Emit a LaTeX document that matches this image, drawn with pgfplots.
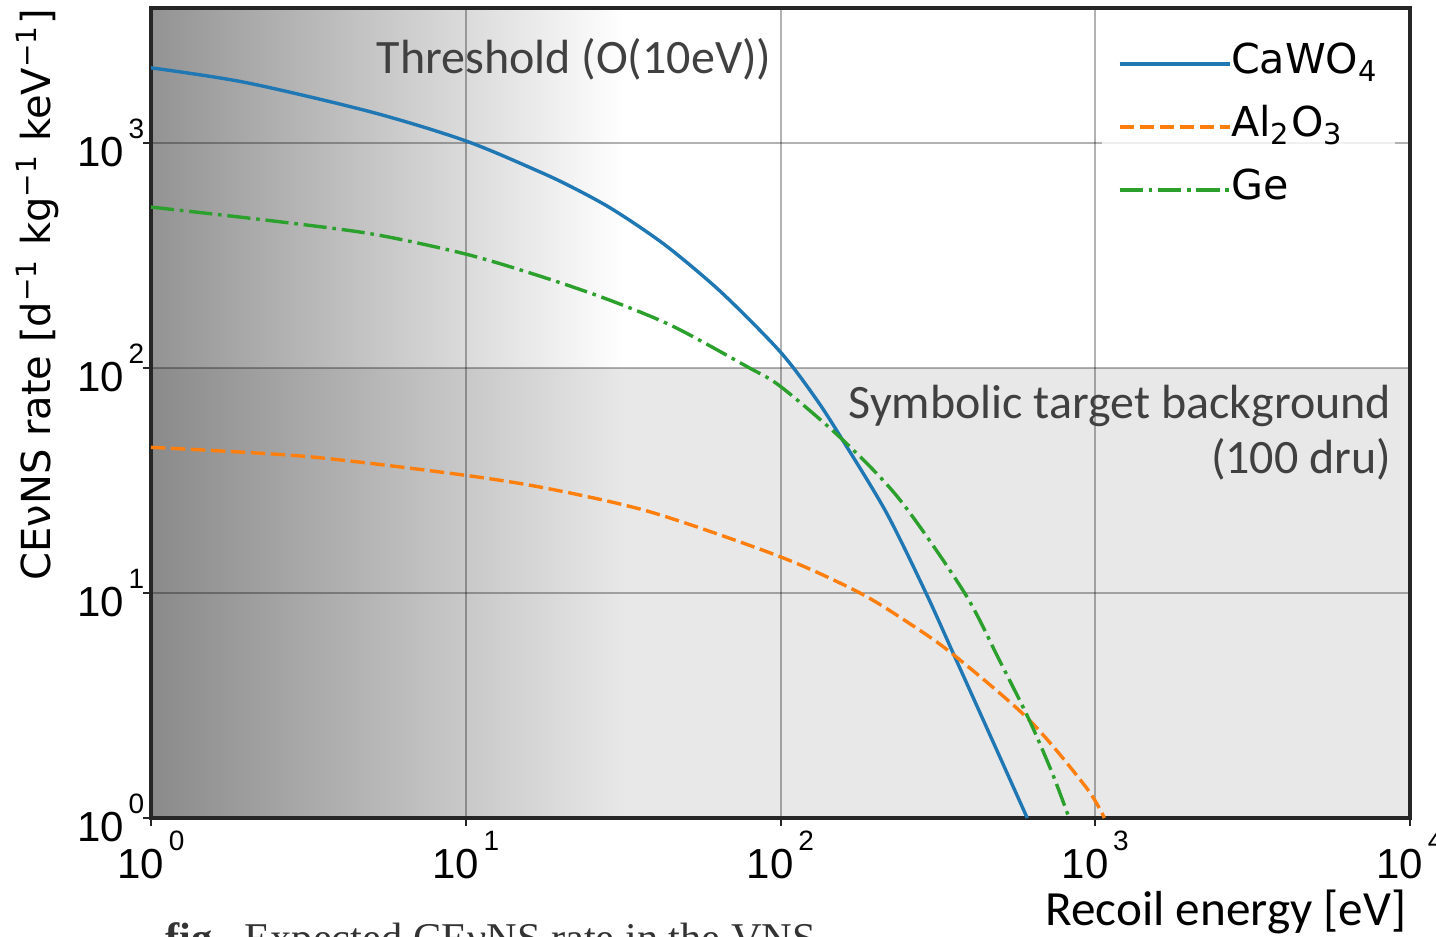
\documentclass[border=0pt]{standalone}
\usepackage{fontspec}
\setmainfont{DejaVu Sans}
\newfontfamily\lib{Liberation Sans}
\newfontfamily\carl{Carlito}
\newfontfamily\capfont{Liberation Serif}
\usepackage{pgfplots}
\pgfplotsset{compat=1.18}
\definecolor{cblue}{HTML}{1F77B4}
\definecolor{corange}{HTML}{FF7F0E}
\definecolor{cgreen}{HTML}{2CA02C}
\definecolor{bggray}{HTML}{E8E8E8}
\definecolor{topleft}{HTML}{939393}
\definecolor{botleft}{HTML}{8A8A8A}
\definecolor{annot}{HTML}{404040}
\begin{document}
\begin{tikzpicture}
\begin{axis}[
  set layers,
  xmode=log, ymode=log, log basis x=10, log basis y=10,
  scale only axis, width=314.75pt, height=202.5pt,
  xmin=1, xmax=10000, ymin=1, ymax=4000,
  axis line style={line width=0.8pt, black!85},
  tick align=outside, xtick pos=left, ytick pos=left,
  major tick length=2pt, minor tick length=1.2pt,
  every tick/.style={black!85, line width=0.5pt},
  grid=major, major grid style={black, opacity=0.3, line width=0.5pt},
  xtick={1,10,100,1000,10000}, ytick={1,10,100,1000},
  xticklabel={\pgfmathparse{int(round(\tick))}10\kern1.2pt\raisebox{7pt}{\fontsize{7}{7}\selectfont\pgfmathresult}},
  yticklabel={\pgfmathparse{int(round(\tick))}10\kern1.2pt\raisebox{7pt}{\fontsize{7}{7}\selectfont\pgfmathresult}},
  ticklabel style={font=\fontsize{10.5}{12}\selectfont\lib},
  xticklabel style={anchor=north, inner sep=0pt, yshift=-1pt},
  yticklabel style={anchor=east, inner sep=0pt, xshift=0.5pt},
  legend cell align=left,
  legend image code/.code={\draw[#1] (0pt,0pt) -- (20.5pt,0pt); \path (0pt,0pt) -- (27.5pt,0pt);},
  legend style={at={(rel axis cs:0.7546,0.979)}, anchor=north west,
    draw=none, fill=white, fill opacity=0.8, text opacity=1,
    inner xsep=4pt, inner ysep=4pt,
    font=\fontsize{10.3}{12}\selectfont,
    nodes={inner sep=0pt, text height=8pt, text depth=3pt},
    row sep=4.75pt},
]
\begin{pgfonlayer}{axis background}
\fill[bggray] (axis cs:1,1) rectangle (axis cs:10000,100);
\shade[left color=topleft, right color=white] (axis cs:1,100) rectangle (axis cs:32,4000);
\shade[left color=botleft, right color=bggray] (axis cs:1,1) rectangle (axis cs:32,100);
\end{pgfonlayer}
\addplot[cblue, line width=0.85pt, smooth] coordinates {
 (1,2168) (2,1865) (5,1380) (10,1026) (17.2,747) (21.9,636) (28.1,527) (35.6,426)
 (45.4,333) (65.5,215) (100,118) (130,72.8) (157,48.3) (217,22.8)
 (290,10) (356,5.3) (495,1.9) (608,1.0)};
\addlegendentry{CaWO\textsubscript{4}}
\addplot[corange, line width=0.85pt, smooth, dash pattern=on 3.6pt off 1.4pt] coordinates {
 (1,44.5) (3.13,40.5) (10,33.4) (18.9,28.9) (39.3,22.8)
 (100,14.5) (178,10.05) (262,7.2) (356,5.3) (617,2.73) (935,1.37) (1069,1.0)};
\addlegendentry{Al\textsubscript{2}O\textsubscript{3}}
\addplot[cgreen, line width=0.85pt, smooth, dash pattern=on 5.8pt off 1.45pt on 0.9pt off 1.45pt] coordinates {
 (1,521) (2.44,452) (5.07,395) (10,322) (17.2,257) (28.1,203) (45.4,154) (78,102)
 (100,83) (157,48.3) (239,26.1) (384,10.05) (495,5.06) (617,2.73) (730,1.585) (826,1.0)};
\addlegendentry{Ge}
\end{axis}
\begin{scope}[shift={(current axis.south west)}, x=0.25pt, y=-0.25pt]
\node[anchor=base west, inner sep=0pt, text=annot, font=\carl\fontsize{12}{14}\selectfont] at (225,-745) {Threshold (O(10eV))};
\node[anchor=base east, inner sep=0pt, text=annot, font=\carl\fontsize{12}{14}\selectfont] at (1241,-400) {Symbolic target background};
\node[anchor=base east, inner sep=0pt, text=annot, font=\carl\fontsize{12}{14}\selectfont] at (1241,-345) {(100 dru)};
\node[anchor=base east, inner sep=0pt, font=\carl\fontsize{12.3}{14}\selectfont] at (1256,107) {Recoil energy [eV]};
\node[anchor=base east, inner sep=0pt, rotate=90, font=\fontsize{10}{12}\selectfont] at (-100,-810) {CEνNS rate [d\textsuperscript{−1} kg\textsuperscript{−1} keV\textsuperscript{−1}]};
\node[anchor=base west, inner sep=0pt, text=black!80, font=\capfont\fontsize{10.6}{12}\selectfont] at (14,134) {\textbf{fig.}\ \ Expected CEνNS rate in the VNS};
\pgfresetboundingbox
\path (-151,-818) rectangle (1285,118);
\end{scope}
\end{tikzpicture}
\end{document}
